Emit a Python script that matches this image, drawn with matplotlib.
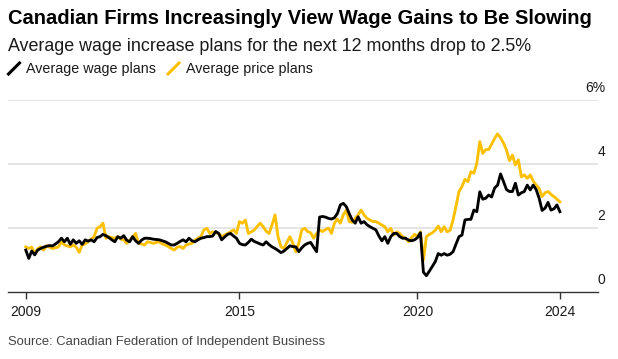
import numpy as np
import matplotlib
matplotlib.use("Agg")
import matplotlib.pyplot as plt
from matplotlib.lines import Line2D

# CFIB monthly survey, Jan 2009 - Jan 2024
wage_plans = [
    1.31, 1.05, 1.28, 1.16, 1.31, 1.36, 1.40, 1.43, 1.45, 1.44, 1.50, 1.57,  # 2009
    1.68, 1.57, 1.68, 1.49, 1.63, 1.52, 1.60, 1.49, 1.63, 1.59, 1.63, 1.57,  # 2010
    1.70, 1.73, 1.80, 1.76, 1.70, 1.63, 1.57, 1.73, 1.68, 1.76, 1.62, 1.57,  # 2011
    1.73, 1.60, 1.52, 1.62, 1.68, 1.68, 1.67, 1.65, 1.64, 1.63, 1.60, 1.57,  # 2012
    1.52, 1.47, 1.47, 1.52, 1.58, 1.63, 1.57, 1.68, 1.60, 1.57, 1.63, 1.68,  # 2013
    1.70, 1.73, 1.73, 1.75, 1.89, 1.83, 1.63, 1.72, 1.80, 1.83, 1.75, 1.68,  # 2014
    1.52, 1.48, 1.47, 1.55, 1.65, 1.58, 1.54, 1.50, 1.47, 1.57, 1.48, 1.41,  # 2015
    1.36, 1.30, 1.23, 1.28, 1.36, 1.44, 1.42, 1.41, 1.26, 1.38, 1.47, 1.52,  # 2016
    1.55, 1.40, 1.26, 2.34, 2.36, 2.34, 2.30, 2.28, 2.32, 2.45, 2.72, 2.77,  # 2017
    2.67, 2.45, 2.25, 2.15, 2.35, 2.15, 2.20, 2.10, 2.04, 1.99, 1.94, 1.75,  # 2018
    1.60, 1.73, 1.52, 1.73, 1.83, 1.83, 1.73, 1.68, 1.68, 1.62, 1.60, 1.63,  # 2019
    1.70, 1.85, 0.62, 0.51, 0.65, 0.80, 0.95, 1.20, 1.15, 1.20, 1.15, 1.18,  # 2020
    1.26, 1.50, 1.73, 1.78, 2.25, 2.27, 2.27, 2.56, 2.51, 3.13, 2.90, 2.93,  # 2021
    3.03, 2.97, 3.25, 3.34, 3.69, 3.45, 3.20, 3.14, 3.14, 3.40, 3.03, 3.10,  # 2022
    3.14, 3.34, 3.19, 3.34, 3.20, 2.93, 2.55, 2.62, 2.80, 2.56, 2.60, 2.72,  # 2023
    2.51,                                                                    # 2024
]
price_plans = [
    1.41, 1.36, 1.40, 1.21, 1.35, 1.41, 1.31, 1.45, 1.40, 1.36, 1.38, 1.41,  # 2009
    1.57, 1.47, 1.44, 1.41, 1.47, 1.40, 1.24, 1.47, 1.50, 1.57, 1.65, 1.73,  # 2010
    1.99, 2.04, 2.15, 1.68, 1.73, 1.70, 1.68, 1.73, 1.65, 1.63, 1.52, 1.60,  # 2011
    1.73, 1.83, 1.52, 1.50, 1.47, 1.57, 1.55, 1.52, 1.55, 1.57, 1.50, 1.47,  # 2012
    1.42, 1.36, 1.31, 1.40, 1.42, 1.36, 1.47, 1.50, 1.52, 1.62, 1.68, 1.73,  # 2013
    1.94, 1.99, 1.83, 1.88, 1.85, 1.83, 1.73, 1.78, 1.83, 1.88, 1.94, 1.83,  # 2014
    2.20, 2.15, 2.25, 1.83, 1.88, 1.94, 2.05, 2.15, 2.04, 1.90, 1.83, 2.10,  # 2015
    2.41, 1.73, 1.41, 1.36, 1.55, 1.73, 1.52, 1.26, 1.52, 1.94, 1.99, 1.89,  # 2016
    1.85, 1.68, 1.83, 1.94, 1.89, 1.95, 2.00, 1.83, 2.15, 2.28, 2.15, 2.41,  # 2017
    2.56, 2.20, 2.18, 2.30, 2.41, 2.56, 2.41, 2.30, 2.25, 2.20, 2.20, 2.15,  # 2018
    2.09, 2.04, 1.88, 1.99, 1.78, 1.88, 1.83, 1.73, 1.68, 1.57, 1.70, 1.80,  # 2019
    1.73, 1.88, 1.00, 1.73, 1.80, 1.85, 1.93, 2.06, 1.88, 2.04, 1.88, 1.93,  # 2020
    2.25, 2.70, 3.14, 3.30, 3.52, 3.45, 3.76, 3.71, 4.02, 4.70, 4.33, 4.45,  # 2021
    4.45, 4.62, 4.80, 4.94, 4.82, 4.65, 4.44, 4.10, 4.28, 3.97, 4.13, 3.60,  # 2022
    3.66, 3.55, 3.66, 3.47, 3.34, 3.24, 2.98, 3.10, 3.14, 3.05, 2.98, 2.90,  # 2023
    2.82,                                                                    # 2024
]
start_year = 2009
x_ticks = [2009, 2015, 2020, 2024]
y_ticks = [0, 2, 4, 6]
y_tick_labels = ["0", "2", "4", "6%"]

t = start_year + np.arange(len(wage_plans)) / 12.0

W, H = 618, 359
fig = plt.figure(figsize=(W / 100, H / 100), dpi=100)
fig.patch.set_facecolor("white")
plt.rcParams["font.family"] = ["Liberation Sans", "DejaVu Sans"]

def fx(px):
    return px / W

def fy(py):
    return 1 - py / H

ax = fig.add_axes([fx(8), fy(292), fx(598) - fx(8), fy(100) - fy(292)])
ax.set_xlim(2008.5, 2025.07)
ax.set_ylim(0, 6)

for v in y_ticks[1:]:
    ax.axhline(v, color="#e3e3e3", linewidth=1.3, zorder=1)

yellow = "#fcc000"
ax.plot(t, price_plans, color=yellow, linewidth=2.05, zorder=3)
ax.plot(t, wage_plans, color="black", linewidth=2.05, zorder=4)

for s in ["top", "right", "left"]:
    ax.spines[s].set_visible(False)
ax.spines["bottom"].set_color("#333333")
ax.spines["bottom"].set_linewidth(1.0)
ax.set_yticks([])
ax.set_xticks(x_ticks)
ax.set_xticklabels([str(x) for x in x_ticks], fontsize=10, color="#1a1a1a")
ax.tick_params(axis="x", length=5, width=1, color="#333333", pad=4)

# right-hand y labels sit above the gridlines
for v, lab in zip(y_ticks, y_tick_labels):
    ax.text(1.012, v + 0.26, lab, transform=ax.get_yaxis_transform(),
            ha="right", va="baseline", fontsize=10, color="#1a1a1a")

fig.text(fx(8), fy(24), "Canadian Firms Increasingly View Wage Gains to Be Slowing",
         fontsize=14.5, fontweight="bold", color="black", va="baseline")
fig.text(fx(8), fy(51), "Average wage increase plans for the next 12 months drop to 2.5%",
         fontsize=12.85, color="#1a1a1a", va="baseline")

# legend with slanted line swatches
for x0, col, lab in [(8.5, "black", "Average wage plans"), (168, yellow, "Average price plans")]:
    fig.add_artist(Line2D([fx(x0), fx(x0 + 11)], [fy(74), fy(63)], color=col,
                          linewidth=2.2, transform=fig.transFigure))
    fig.text(fx(x0 + 18), fy(73.5), lab, fontsize=10.3, color="#1a1a1a", va="baseline")

fig.text(fx(8), fy(345), "Source: Canadian Federation of Independent Business",
         fontsize=9.4, color="#444444", va="baseline")

fig.savefig("out.png", dpi=100, facecolor="white")
